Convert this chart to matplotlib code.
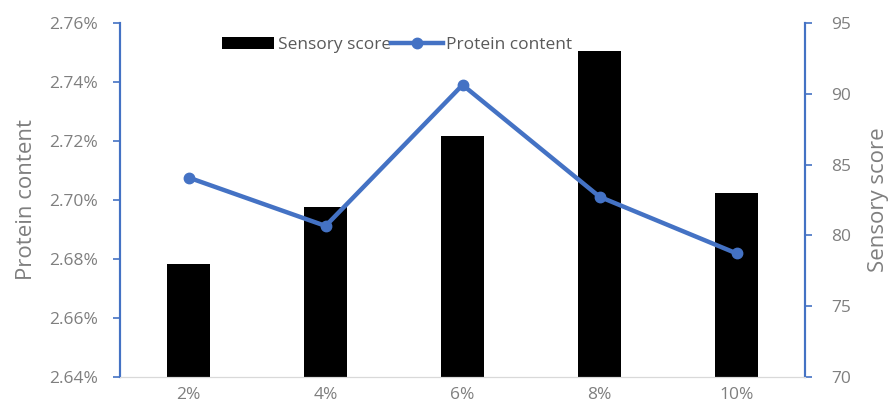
import matplotlib.pyplot as plt
from matplotlib.ticker import FuncFormatter, MultipleLocator

# sensory score (bars, right axis) and protein content (line, left axis)
levels = ["2%", "4%", "6%", "8%", "10%"]
sensory_score = [78, 82, 87, 93, 83]
protein_content = [2.7076, 2.6912, 2.7390, 2.7011, 2.6819]

blue = "#4472C4"
grey = "#7F7F7F"
plt.rcParams["font.family"] = ["Open Sans", "DejaVu Sans"]

fig = plt.figure(figsize=(8.9, 4.03), dpi=100)
ax = fig.add_axes([0.135, 0.0645, 0.7695, 0.8785])
ax2 = ax.twinx()

x = range(len(levels))
bars = ax2.bar(x, sensory_score, width=0.31, color="black", zorder=1, label="Sensory score")
ax2.set_ylim(70, 95)
ax2.yaxis.set_major_locator(MultipleLocator(5))

# line goes on top of the bars
ax.set_zorder(ax2.get_zorder() + 1)
ax.patch.set_visible(False)
line, = ax.plot(x, protein_content, color=blue, lw=3.2, marker="o", ms=7.5,
                label="Protein content")
ax.set_ylim(2.64, 2.76)
ax.yaxis.set_major_locator(MultipleLocator(0.02))
ax.yaxis.set_major_formatter(FuncFormatter(lambda v, p: f"{v:.2f}%"))
ax.set_xlim(-0.5, 4.5)
ax.set_xticks(list(x))
ax.set_xticklabels(levels)

for a in (ax, ax2):
    a.spines["top"].set_visible(False)
    a.spines["bottom"].set_color("#D9D9D9")
    a.spines["left"].set_color(blue)
    a.spines["right"].set_color(blue)
    a.spines["left"].set_linewidth(1.5)
    a.spines["right"].set_linewidth(1.5)
    a.tick_params(axis="y", colors=blue, labelcolor=grey, labelsize=12.5, length=5, width=1.2)
    a.tick_params(axis="x", length=0, labelcolor=grey, labelsize=12.5, pad=7)
ax.tick_params(axis="y", pad=11)
ax2.tick_params(axis="y", pad=14)

ax.set_ylabel("Protein content", color=grey, fontsize=16, labelpad=9)
ax2.set_ylabel("Sensory score", color=grey, fontsize=16, labelpad=12)

fig.legend([bars, line], ["Sensory score", "Protein content"], ncol=2, frameon=False,
           loc="center left", bbox_to_anchor=(0.232, 0.888), fontsize=12.5,
           labelcolor="#595959", handlelength=3.0, handletextpad=0.2, columnspacing=0.0)

fig.savefig("out.png", dpi=100)
